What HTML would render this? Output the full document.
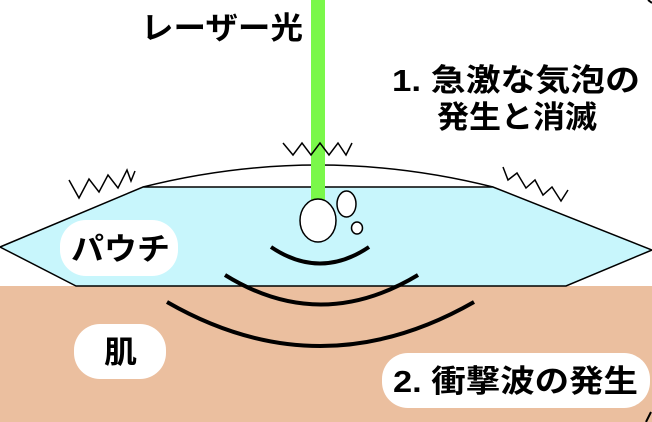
<!DOCTYPE html>
<html><head><meta charset="utf-8"><style>
html,body{margin:0;padding:0;background:#fff}
svg{display:block}
text{font-family:"Liberation Sans","Noto Sans CJK JP",sans-serif;font-weight:bold;fill:#000}
</style></head><body>
<svg width="652" height="422" viewBox="0 0 652 422" xmlns="http://www.w3.org/2000/svg">
<rect x="0" y="0" width="652" height="422" fill="#fff"/>
<rect x="0" y="286" width="652" height="136" fill="#ebbf9f"/>
<path d="M143 187 Q318 143 493 187" fill="none" stroke="#000" stroke-width="1.5"/>
<polygon points="0,247 143,187 493,187 652,250 566,286 76,286" fill="#c8f6fc" stroke="#000" stroke-width="1.5"/>
<rect x="311" y="0" width="14" height="202" fill="#7af84a"/>
<ellipse cx="318" cy="220.5" rx="18" ry="21.5" fill="#fff" stroke="#000" stroke-width="1.5"/>
<ellipse cx="346.5" cy="204" rx="9.5" ry="13" fill="#fff" stroke="#000" stroke-width="1.5"/>
<ellipse cx="357" cy="228" rx="5.5" ry="6" fill="#fff" stroke="#000" stroke-width="1.5"/>
<path d="M271 247 Q320 280 369 247" fill="none" stroke="#000" stroke-width="4"/>
<path d="M225 275 Q320 334 418 275" fill="none" stroke="#000" stroke-width="4"/>
<path d="M167 302 Q320 390 474 302" fill="none" stroke="#000" stroke-width="4"/>
<polyline points="283,143 293,155 302,143 311,155 320,143 329,155 338,143 346,155 352,143" fill="none" stroke="#000" stroke-width="1.5"/>
<polyline points="69,180 79,198 89,179 99,192 108,175 118,188 127,170 131,181 135,171" fill="none" stroke="#000" stroke-width="1.5"/>
<polyline points="503,167 508,180 517,173 526,188 535,180 543,195 552,187 561,201 568,190" fill="none" stroke="#000" stroke-width="1.5"/>
<rect x="60" y="220" width="118" height="56" rx="26" fill="#fff"/>
<text x="71" y="260" font-size="31" textLength="99" lengthAdjust="spacingAndGlyphs">パウチ</text>
<rect x="74" y="324" width="92" height="55" rx="26" fill="#fff"/>
<text x="104" y="363" font-size="31" textLength="33" lengthAdjust="spacingAndGlyphs">肌</text>
<rect x="382" y="353" width="268" height="55" rx="26" fill="#fff"/>
<text x="393" y="392" font-size="31" textLength="245" lengthAdjust="spacingAndGlyphs">2. 衝撃波の発生</text>
<text x="141" y="39" font-size="31" textLength="162" lengthAdjust="spacingAndGlyphs">レーザー光</text>
<text x="392" y="91" font-size="31" textLength="248" lengthAdjust="spacingAndGlyphs">1. 急激な気泡の</text>
<text x="437" y="128" font-size="31" textLength="160" lengthAdjust="spacingAndGlyphs">発生と消滅</text>
<path d="M646 422 L651 412" stroke="#000" stroke-width="2"/>
<path d="M648 0 L652 3" stroke="#000" stroke-width="2"/>
</svg>
</body></html>
